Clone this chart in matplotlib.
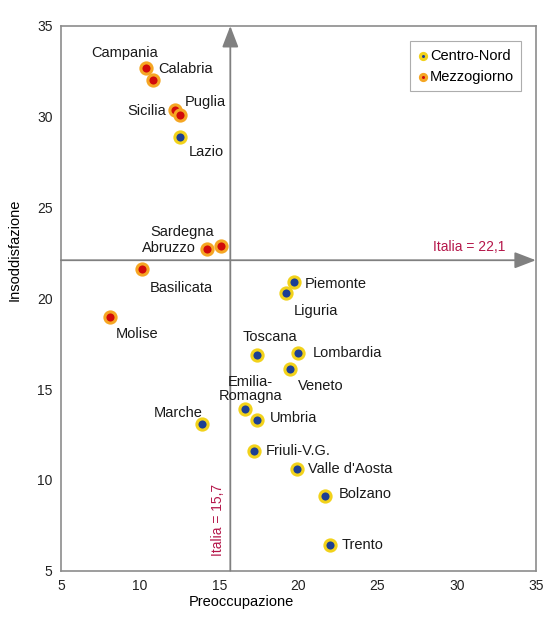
import numpy as np
import matplotlib.pyplot as plt

plt.rc('font', family=['Liberation Sans', 'DejaVu Sans'])

# dati: regioni, preoccupazione (x), insoddisfazione (y), area
regioni = ['Campania', 'Calabria', 'Sicilia', 'Puglia', 'Lazio', 'Sardegna', 'Abruzzo',
           'Basilicata', 'Molise', 'Marche', 'Piemonte', 'Liguria', 'Toscana', 'Lombardia',
           'Veneto', 'Emilia-\nRomagna', 'Umbria', 'Friuli-V.G.', "Valle d'Aosta",
           'Bolzano', 'Trento']
preoccupazione = [10.4, 10.8, 12.2, 12.5, 12.5, 15.1, 14.2,
                  10.1, 8.1, 13.9, 19.7, 19.2, 17.4, 20.0,
                  19.5, 16.6, 17.4, 17.2, 19.9,
                  21.7, 22.0]
insoddisfazione = [32.7, 32.0, 30.4, 30.1, 28.9, 22.9, 22.7,
                   21.6, 19.0, 13.1, 20.9, 20.3, 16.9, 17.0,
                   16.1, 13.9, 13.3, 11.6, 10.6,
                   9.1, 6.4]
area = ['Mezzogiorno'] * 4 + ['Centro-Nord'] + ['Mezzogiorno'] * 4 + ['Centro-Nord'] * 12
italia_x = 15.7
italia_y = 22.1

# posizione delle etichette (offset in pixel, allineamento)
label_pos = [(-22, 15, 'center'), (6, 11, 'left'), (-9, -1, 'right'), (5, 13, 'left'),
             (9, -15, 'left'), (-7, 14, 'right'), (-11, 1, 'right'),
             (8, -19, 'left'), (6, -17, 'left'), (1, 11, 'right'), (11, -2, 'left'),
             (8, -18, 'left'), (13, 18, 'center'), (14, 0, 'left'),
             (7, -17, 'left'), (6, 20, 'center'), (13, 2, 'left'), (12, 0, 'left'),
             (11, 0, 'left'), (13, 2, 'left'), (12, 0, 'left')]

stili = {
    'Centro-Nord': dict(face='#1c3f94', edge='#f2d21b'),
    'Mezzogiorno': dict(face='#d10a0a', edge='#f5a623'),
}

fig = plt.figure(figsize=(5.44, 6.19), dpi=100)
ax = fig.add_axes([0.112, 0.078, 0.873, 0.880])

ax.set_xlim(5, 35)
ax.set_ylim(5, 35)
ax.set_xticks(np.arange(5, 36, 5))
ax.set_yticks(np.arange(5, 36, 5))
ax.tick_params(length=0, labelsize=10, colors='#222222', pad=6)
for s in ax.spines.values():
    s.set_color('#8c8c8c')
    s.set_linewidth(1.2)

# linee della media nazionale con freccia
ax.annotate('', xy=(italia_x, 35), xytext=(italia_x, 5),
            arrowprops=dict(arrowstyle='-|>,head_length=1.3,head_width=0.5',
                            color='#808080', lw=1.3, shrinkA=0, shrinkB=0))
ax.annotate('', xy=(35, italia_y), xytext=(5, italia_y),
            arrowprops=dict(arrowstyle='-|>,head_length=1.3,head_width=0.5',
                            color='#808080', lw=1.3, shrinkA=0, shrinkB=0))
ax.text(30.8, italia_y + 0.35, 'Italia = 22,1', color='#b5174a', fontsize=10,
        ha='center', va='bottom')
ax.text(italia_x - 0.35, 7.8, 'Italia = 15,7', color='#b5174a', fontsize=10,
        rotation=90, ha='right', va='center')

for nome in ['Centro-Nord', 'Mezzogiorno']:
    idx = [i for i, a in enumerate(area) if a == nome]
    ax.scatter([preoccupazione[i] for i in idx], [insoddisfazione[i] for i in idx],
               s=65, c=stili[nome]['face'], edgecolors=stili[nome]['edge'],
               linewidths=2.2, zorder=3, label=nome)

for i, nome in enumerate(regioni):
    dx, dy, ha = label_pos[i]
    ax.annotate(nome, (preoccupazione[i], insoddisfazione[i]), xytext=(dx, dy),
                textcoords='offset pixels', ha=ha, va='center', fontsize=10.5,
                color='#1a1a1a', linespacing=0.95, zorder=4)

leg = ax.legend(loc='upper right', bbox_to_anchor=(0.985, 0.985), fontsize=10.5,
                frameon=True, fancybox=False, edgecolor='#999999', handletextpad=0.1,
                handlelength=0.8, borderpad=0.5, labelspacing=0.5, markerscale=0.55)
leg.get_frame().set_linewidth(0.8)

ax.set_xlabel('Preoccupazione', fontsize=10.5)
ax.set_ylabel('Insoddisfazione', fontsize=10.5)
ax.xaxis.set_label_coords(0.379, -0.045)
ax.yaxis.set_label_coords(-0.082, 0.589)

fig.savefig('out.png', dpi=100)
